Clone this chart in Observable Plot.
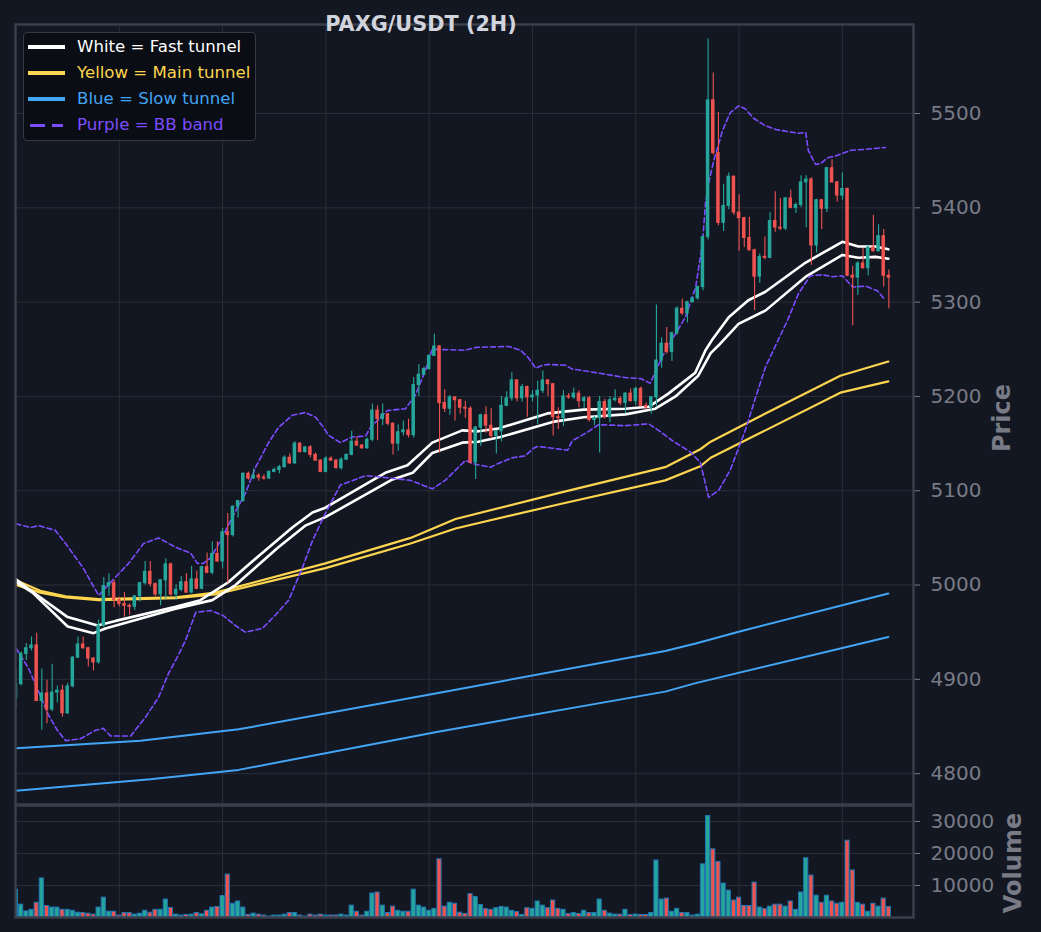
<!DOCTYPE html>
<html><head><meta charset="utf-8">
<script src="https://cdn.jsdelivr.net/npm/d3@7"></script>
<script src="https://cdn.jsdelivr.net/npm/@observablehq/plot@0.6"></script>
<style>
html,body{margin:0;padding:0;background:#131722;}
#wrap{position:relative;width:1041px;height:932px;background:#131722;font-family:"DejaVu Sans",sans-serif;overflow:hidden;}
#wrap svg{position:absolute;left:0;}
.abs{position:absolute;white-space:nowrap;line-height:1;}
</style></head><body><div id="wrap"></div>
<script>
// ---- candle data (index 0..169, 2H bars) ----
const open  = [4880,4895,4927,4933,4936,4877,4885,4868,4886,4888,4864,4892.5,4923,4937,4933,4922,4918,4957,4999,5002,4984,4980,4978,4977,4988,5002,5014,5001,4990,5005,5022,4990,4995,5003,4992,5006,4996,5019,5013,5033,5025,5056,5053,5083,5089,5118,5113,5116,5114,5113,5120,5122,5125,5135,5129,5150,5141,5146,5138,5132,5120,5134,5132,5124,5133,5138,5152,5148,5145,5154,5185,5176,5181,5171,5150,5162,5164,5159,5212,5223,5229,5243,5253,5193,5187,5199,5196,5188,5187,5130,5167,5180,5169,5158,5163,5190,5198,5217,5198,5210,5199,5201,5206,5217,5213,5178,5177,5200,5199,5203,5195,5198,5175,5177,5194,5178,5196,5197.5,5193,5203,5195,5208,5190,5188.5,5199,5238,5256,5247,5267,5293,5288,5300,5304,5316,5369,5514,5458,5384,5402,5433,5395,5389,5368,5355,5327,5348,5347,5386,5379,5378,5410,5400,5403,5427,5430,5360,5408,5399,5442,5427,5413,5420,5328,5326,5341,5336,5358,5354,5370,5328];
const high  = [4910,4929,4938,4945,4949,4911,4899,4916,4893,4894,4896,4924,4945,4945,4934,4923,4963,5008,5012,5005,4987,4992,4980,4989,5003,5025,5025,5002,5006,5028,5023,5000,5009,5012,5020,5015,5020,5034,5046,5046,5060,5076,5084,5090,5119,5120,5123,5118,5117,5121,5124,5127,5137,5139,5152,5151,5147,5148,5140,5133,5136,5136,5133,5135,5139,5163,5157,5149,5156,5192,5190,5192,5182,5172,5170,5174,5176,5220,5234,5231,5244,5266,5254,5207,5201,5200,5197,5195,5189,5168,5181,5189,5187,5164,5200,5205,5225,5218,5213,5211,5206,5216,5227,5218,5214,5188,5206,5203,5209,5206,5200,5200,5179,5200,5197,5200,5207,5200,5204,5208,5210,5210,5193,5200,5297,5262,5273,5268,5295,5303,5301,5305,5317,5370,5579,5543,5501,5425,5437,5434,5414,5390,5390,5356,5351,5369,5395,5417,5410,5411,5419,5405,5434,5434,5432,5409,5409,5443,5451,5428,5437,5421,5338,5343,5357,5359,5392,5382,5377,5334];
const low   = [4870,4893,4920,4930,4877,4846,4853,4866,4875,4860,4863,4891,4922,4932,4913,4909,4916,4955,4988,4976,4977,4966,4968,4973,4982,5000,4998,4988,4978,4985,4988,4984,4993,4991,4991,4995,4995,5012,5011,5024,5017,5002,5051,5071,5088,5111,5112,5110,5111,5112,5119,5118,5124,5128,5128,5140,5140,5135,5131,5119,5119,5131,5123,5122,5132,5137,5147,5144,5144,5152,5153,5169,5169,5138,5142,5158,5156,5156,5200,5222,5228,5243,5140,5183,5180,5174,5181,5177,5128,5112,5147,5161,5155,5139,5152,5189,5195,5194,5194,5178,5194,5170,5203,5200,5158,5165,5168,5197,5197,5188,5187,5173,5169,5140,5176,5172,5194,5190,5182,5194,5190,5189,5186,5181,5189,5230,5245,5237,5265,5286,5278,5299,5302,5312,5366,5456,5381,5375,5398,5392,5354,5358,5354,5291,5320,5345,5346,5374,5376,5376,5399,5394,5400,5379,5339,5352,5377,5395,5426,5406,5408,5327,5275,5307,5335,5328,5353,5353,5316,5293];
const close = [4895,4927,4933,4936,4877,4885,4868,4886,4888,4864,4892.5,4923,4937,4933,4922,4918,4957,4999,5002,4984,4980,4978,4977,4988,5002,5014,5001,4990,5005,5022,4990,4995,5003,4992,5006,4996,5019,5013,5033,5025,5056,5053,5083,5089,5118,5113,5116,5114,5113,5120,5122,5125,5135,5129,5150,5141,5146,5138,5132,5120,5134,5132,5124,5133,5138,5152,5148,5145,5154,5185,5176,5181,5171,5150,5162,5164,5159,5212,5223,5229,5243,5253,5193,5187,5199,5196,5188,5187,5130,5167,5180,5169,5158,5163,5190,5198,5217,5198,5210,5199,5201,5206,5217,5213,5178,5177,5200,5199,5203,5195,5198,5175,5177,5194,5178,5196,5197.5,5193,5203,5195,5208,5190,5188.5,5199,5238,5256,5247,5267,5293,5288,5300,5304,5316,5369,5514,5458,5384,5402,5433,5395,5389,5368,5355,5327,5348,5347,5386,5379,5378,5410,5400,5403,5427,5430,5360,5408,5399,5442,5427,5413,5420,5328,5326,5341,5336,5358,5354,5370,5328,5326];
const volume = [8700,4000,1900,2400,4600,12200,3600,3100,3100,2400,2400,2100,1500,1400,1200,900,3100,6200,1800,1800,600,1400,1400,900,1200,2100,1500,2400,2400,5600,3000,900,600,800,900,1400,1000,2100,3100,3300,6700,13400,4300,5000,3100,800,1200,900,600,300,600,600,900,1400,1400,600,300,900,600,900,600,600,600,900,600,3700,1800,600,1800,7500,7800,3700,1400,3400,2100,1800,1800,8700,3700,3100,2100,2700,18200,3400,4600,4300,1500,1100,7300,6400,3900,2600,2400,2900,3300,3100,2100,1700,800,2900,2700,5000,3700,2900,5300,2700,2400,1100,1400,1100,2100,1400,1400,5600,2100,1200,900,900,2400,800,900,800,800,1400,17800,5600,5900,1800,2700,1400,1400,600,900,16600,31700,21300,17400,10600,8400,5300,6200,3600,3600,10900,3100,2600,3400,4000,4000,3400,5000,2400,7800,18500,13100,6800,4600,6800,5000,4300,4600,24000,14700,4600,4000,1800,4300,3400,5900,3300];

// ---- tunnel lines: [bar index, price] ----
const fastUpper = [[0,5006],[2.4,4996],[10,4966],[15.8,4957],[19.3,4962],[30.9,4977],[35.7,4984],[41.1,5003],[48.3,5037],[53.5,5061],[57.4,5077],[59.9,5082],[69,5111],[71.5,5119],[75.8,5127],[80.6,5151],[86.4,5164],[89.5,5163],[93.4,5166],[102.9,5182],[109.9,5186],[118,5187],[122.5,5189],[126.3,5203],[131.5,5225],[133.5,5249],[134.9,5261],[138,5284],[141.8,5302],[145.1,5311],[152.9,5342],[160,5364],[163.1,5359],[166.4,5359],[168.9,5356]];
const fastLower = [[0,5003],[3.2,4992],[10,4956],[15,4949],[17.3,4954],[30.9,4975],[38,4984],[42.5,5000],[50.8,5040],[56,5063],[59.9,5072],[72.9,5112],[76.8,5119],[80.6,5140],[86.4,5151],[89.5,5152],[93.8,5157],[103.9,5173],[109.9,5178],[118,5181],[123.8,5187],[127.7,5200],[132.1,5222],[134.5,5246],[136,5254],[139.9,5277],[145.1,5291],[152.9,5327],[160,5350],[163.1,5347],[166.4,5348],[168.9,5346]];
const mainUpper = [[0,5005],[4.7,4994],[9.6,4988],[16,4985],[30.9,4987],[38.6,4992],[59.9,5023],[76.4,5050],[85.1,5070],[105.4,5098],[125.7,5125],[132.5,5144],[134.5,5152],[145.1,5182],[159.6,5222],[168.9,5237]];
const mainLower = [[0,5000],[4.7,4992],[9.6,4987],[16,4984],[30.9,4986],[38.6,4990],[59.9,5018],[76.4,5044],[85.1,5060],[105.4,5086],[125.7,5111],[132.5,5126],[134.5,5135],[145.1,5164],[159.6,5204],[168.9,5216]];
const slowUpper = [[0,4827],[24.1,4835],[43.1,4847],[81.2,4885],[125.7,4930],[131.6,4938],[140.3,4951],[168.9,4991]];
const slowLower = [[0,4782],[26,4794],[43.1,4804],[81.2,4844],[125.7,4887],[131.6,4896],[168.9,4945]];
const bbUpper = [[0,5065],[2.8,5061],[4.4,5063],[7.6,5058],[9.6,5044],[12.9,5019],[16,4989],[18.7,5005],[21.8,5023],[24.7,5044],[27.6,5050],[30.9,5040],[33.8,5034],[35.1,5023],[36.3,5023],[37.7,5029],[39.6,5047],[41.9,5072],[44.4,5097],[46.4,5125],[48.9,5151],[50.8,5167],[53.5,5180],[56,5183],[58,5178],[59.3,5169],[60.5,5159],[62.8,5151],[65.1,5157],[67.7,5158],[68.6,5167],[71.9,5185],[75.4,5187],[77.3,5201],[79.3,5228],[80.6,5250],[87,5249],[89,5252],[95.4,5253],[97.7,5249],[99.2,5241],[100.6,5230],[101.9,5233],[103.1,5234],[106.4,5233],[107.7,5229],[110.3,5227],[114.7,5223],[118,5220],[120.9,5219],[122.8,5214],[125.2,5243],[127.3,5263],[129.6,5284],[131.6,5316],[132.9,5362],[133.5,5405],[134.1,5426],[135.1,5450],[136.8,5482],[138.3,5501],[139.9,5508],[141.2,5505],[142.8,5495],[145.1,5487],[147.1,5483],[151.5,5479],[152.9,5480],[153.4,5461],[154.8,5446],[155.8,5447],[157.1,5453],[158.7,5455],[161.6,5461],[164.5,5462],[168.3,5464]];
const bbLower = [[0,4933],[2.4,4912],[4.7,4883],[6.3,4862],[8,4846],[9.6,4835],[12.5,4837],[15.4,4846],[16.9,4848],[18.3,4840],[22.2,4840],[25.1,4860],[27.6,4881],[29.5,4906],[30.9,4920],[32.8,4941],[34.8,4971],[37.7,4973],[40,4968],[42.5,4957],[44.4,4950],[47.7,4954],[50.2,4968],[52.8,4984],[55.5,5019],[57.4,5047],[59.9,5076],[62.8,5106],[65.7,5112],[67.7,5116],[71.5,5114],[76.4,5111],[80.6,5102],[83.1,5111],[87,5132],[89,5128],[91.9,5125],[93.4,5129],[96.1,5135],[98.6,5137],[100.2,5145],[101,5147],[103.9,5145],[106.8,5143],[107.7,5153],[110.3,5161],[112.8,5170],[118,5169],[122.5,5171],[124.4,5164],[127.1,5153],[130.6,5141],[132.5,5130],[134.1,5093],[136,5100],[138.3,5122],[141.2,5164],[143.2,5199],[145.1,5231],[149.4,5281],[151.5,5309],[153.8,5328],[156.1,5329],[158.1,5327],[160,5328],[162,5316],[164.5,5317],[166.8,5312],[168.3,5302]];

// ---- axes ----
const priceTicks = [4800,4900,5000,5100,5200,5300,5400,5500];
const volumeTicks = [10000,20000,30000];
const gridBars = [20,40,60,80,100,120,140,160];

const title = "PAXG/USDT (2H)";
const legendItems = [
  {label:"White = Fast tunnel", color:"#ffffff", dash:false},
  {label:"Yellow = Main tunnel", color:"#fdd54f", dash:false},
  {label:"Blue = Slow tunnel", color:"#42a5f5", dash:false},
  {label:"Purple = BB band", color:"#7c4dff", dash:true}
];

const UP = "#26a69a", DOWN = "#ef5350";
const GRID = "#2a2e39", SPINE = "#3a3e4a", TXT = "#787b86";
const candles = open.map((o,i)=>({i, o, h:high[i], l:low[i], c:close[i], v:volume[i], col: close[i]>=o?UP:DOWN}));
const xDomain = [-0.097, 173.77];
const plain = d => String(d);

const lineMark = (arr, color, w, dash) => Plot.line(arr, {x:d=>d[0], y:d=>d[1], stroke:color, strokeWidth:w, strokeDasharray:dash, clip:true});

const pricePlot = Plot.plot({
  width:1041, height:806, marginLeft:15, marginRight:128, marginTop:24, marginBottom:2,
  style:{background:"transparent", color:TXT, fontFamily:"DejaVu Sans", fontSize:"20px", overflow:"visible"},
  x:{domain:xDomain, axis:null},
  y:{domain:[4767.3, 5594.4], axis:null},
  color:{type:"identity"},
  marks:[
    Plot.gridX(gridBars, {stroke:GRID, strokeOpacity:1, strokeWidth:1}),
    Plot.gridY(priceTicks, {stroke:GRID, strokeOpacity:1, strokeWidth:1}),
    lineMark(slowUpper, "#42a5f5", 2),
    lineMark(slowLower, "#42a5f5", 2),
    lineMark(mainUpper, "#fdd54f", 2.2),
    lineMark(mainLower, "#fdd54f", 2.2),
    lineMark(fastUpper, "#ffffff", 2.6),
    lineMark(fastLower, "#ffffff", 2.6),
    lineMark(bbUpper, "#7c4dff", 1.6, "5,3"),
    lineMark(bbLower, "#7c4dff", 1.6, "5,3"),
    Plot.ruleX(candles, {x:"i", y1:"l", y2:"h", stroke:"col", strokeWidth:1.1, clip:true}),
    Plot.rect(candles, {x1:d=>d.i-0.34, x2:d=>d.i+0.34, y1:d=>Math.min(d.o,d.c), y2:d=>Math.max(d.o,d.c), fill:"col", insetTop:-0.5, insetBottom:-0.5, clip:true}),
    Plot.axisY(priceTicks, {anchor:"right", tickSize:6, tickPadding:11, tickFormat:plain, stroke:TXT, fill:TXT, fontSize:20, label:null}),
    Plot.frame({stroke:SPINE, strokeWidth:2.5})
  ]
});

const volPlot = Plot.plot({
  width:1041, height:132, marginLeft:15, marginRight:128, marginTop:5, marginBottom:15,
  style:{background:"transparent", color:TXT, fontFamily:"DejaVu Sans", fontSize:"20px", overflow:"visible"},
  x:{domain:xDomain, axis:null},
  y:{domain:[0, 35000], axis:null},
  color:{type:"identity"},
  marks:[
    Plot.gridX(gridBars, {stroke:GRID, strokeOpacity:1, strokeWidth:1}),
    Plot.gridY(volumeTicks, {stroke:GRID, strokeOpacity:1, strokeWidth:1}),
    Plot.rect(candles, {x1:d=>d.i-0.4, x2:d=>d.i+0.4, y1:0, y2:"v", fill:"col", stroke:"#1f77b4", strokeWidth:1, clip:true}),
    Plot.axisY(volumeTicks, {anchor:"right", tickSize:6, tickPadding:11, tickFormat:plain, stroke:TXT, fill:TXT, fontSize:20, label:null}),
    Plot.frame({stroke:SPINE, strokeWidth:2.5})
  ]
});

const wrap = document.getElementById("wrap");
pricePlot.style.top = "0px";
volPlot.style.top = "800px";
wrap.appendChild(pricePlot);
wrap.appendChild(volPlot);

function addDiv(text, css){
  const d = document.createElement("div");
  d.className = "abs";
  d.textContent = text;
  Object.assign(d.style, css);
  wrap.appendChild(d);
  return d;
}
// title
addDiv(title, {left:"421px", top:"24px", transform:"translate(-50%,-50%)", fontWeight:"bold", fontSize:"20.8px", color:"#d1d4dc", zIndex:5});
// axis labels
addDiv("Price", {left:"1002px", top:"418px", transform:"translate(-50%,-50%) rotate(-90deg)", fontWeight:"bold", fontSize:"24px", color:TXT});
addDiv("Volume", {left:"1013px", top:"863px", transform:"translate(-50%,-50%) rotate(-90deg)", fontWeight:"bold", fontSize:"24px", color:TXT});

// legend
const leg = document.createElement("div");
Object.assign(leg.style, {position:"absolute", left:"23px", top:"32px", width:"231px", height:"107px", background:"rgba(10,13,19,0.92)", border:"1.5px solid #363a45", borderRadius:"4px", zIndex:4});
wrap.appendChild(leg);
legendItems.forEach((it, r) => {
  const cy = 46.5 + r*26.2;
  if (!it.dash) {
    const ln = document.createElement("div");
    Object.assign(ln.style, {position:"absolute", left:"28px", top:(cy-2)+"px", width:"37px", height:"4px", background:it.color, zIndex:5});
    wrap.appendChild(ln);
  } else {
    [[30,15],[52,11]].forEach(([l,w]) => {
      const ln = document.createElement("div");
      Object.assign(ln.style, {position:"absolute", left:l+"px", top:(cy-1.5)+"px", width:w+"px", height:"3.5px", background:it.color, zIndex:5});
      wrap.appendChild(ln);
    });
  }
  addDiv(it.label, {left:"77px", top:cy+"px", transform:"translateY(-50%)", fontSize:"16.6px", color:it.color, zIndex:5});
});
</script>
</body></html>
